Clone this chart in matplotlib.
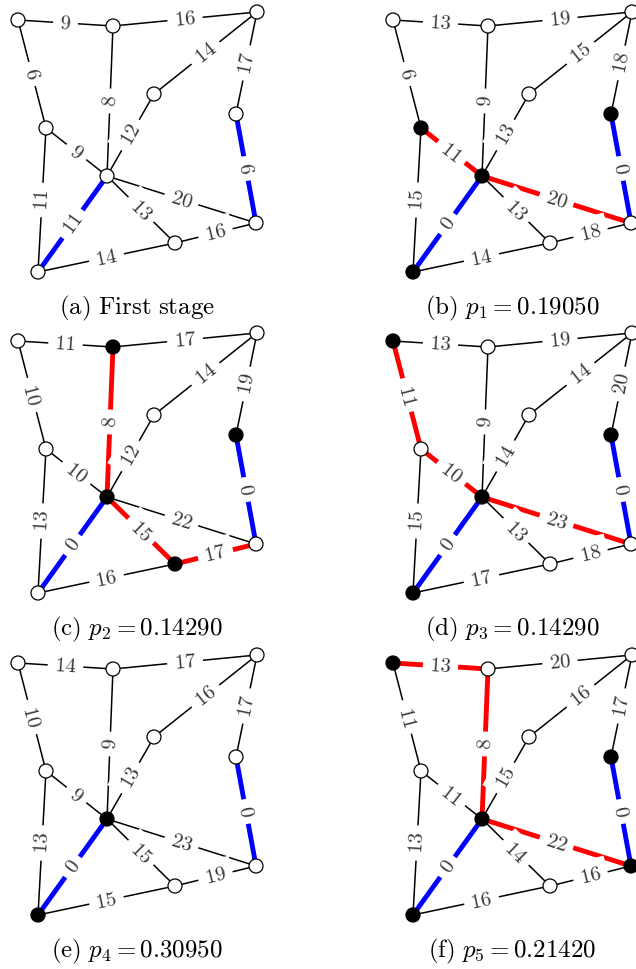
import math
import matplotlib
matplotlib.use("Agg")
import matplotlib.pyplot as plt
from matplotlib.patches import Circle

plt.rcParams['mathtext.fontset'] = 'cm'

# node layout (pixels inside one panel, y downwards)
node_x = [18, 113, 257, 154, 236, 46, 107, 256, 175, 38]
node_y = [20, 26, 12, 94, 114, 128, 176, 223, 243, 272]

edges = [(0, 1), (1, 2), (0, 5), (1, 6), (2, 3), (3, 6), (2, 4), (4, 7),
         (5, 6), (5, 9), (6, 9), (6, 7), (6, 8), (8, 7), (9, 8)]

weights = [
    [9, 16, 6, 8, 14, 12, 17, 6, 9, 11, 11, 20, 13, 16, 14],
    [13, 19, 6, 9, 15, 13, 18, 0, 11, 15, 0, 20, 13, 18, 14],
    [11, 17, 10, 8, 14, 12, 19, 0, 10, 13, 0, 22, 15, 17, 16],
    [13, 19, 11, 9, 14, 14, 20, 0, 10, 15, 0, 23, 13, 18, 17],
    [14, 17, 10, 9, 16, 13, 17, 0, 9, 13, 0, 23, 15, 19, 15],
    [13, 20, 11, 8, 16, 15, 17, 0, 11, 13, 0, 22, 14, 16, 16],
]

blue_edges = [(4, 7), (6, 9)]
red_edges = [
    [],
    [(5, 6), (6, 7)],
    [(1, 6), (6, 8), (8, 7)],
    [(0, 5), (5, 6), (6, 7)],
    [],
    [(0, 1), (1, 6), (6, 7)],
]
black_nodes = [
    [],
    [4, 5, 6, 9],
    [1, 4, 6, 8],
    [0, 4, 6, 9],
    [6, 9],
    [0, 4, 6, 7, 9],
]
captions = [
    r"$\mathrm{(a)\ First\ stage}$",
    r"$\mathrm{(b)}\ p_1 = 0.19050$",
    r"$\mathrm{(c)}\ p_2 = 0.14290$",
    r"$\mathrm{(d)}\ p_3 = 0.14290$",
    r"$\mathrm{(e)}\ p_4 = 0.30950$",
    r"$\mathrm{(f)}\ p_5 = 0.21420$",
]

W, H = 636, 969
fig = plt.figure(figsize=(W / 100, H / 100), dpi=100)

col_left = [0, 375]
row_top = [0, 321, 643]
pw, ph = 261, 320

for k in range(6):
    L = col_left[k % 2]
    T = row_top[k // 2]
    ax = fig.add_axes([L / W, 1 - (T + ph) / H, pw / W, ph / H])
    ax.set_xlim(0, pw)
    ax.set_ylim(ph, 0)
    ax.axis('off')

    for i, (a, b) in enumerate(edges):
        xa, ya, xb, yb = node_x[a], node_y[a], node_x[b], node_y[b]
        if (a, b) in blue_edges:
            ax.plot([xa, xb], [ya, yb], color='#0000ff', lw=3.5, solid_capstyle='butt', zorder=2)
        elif (a, b) in red_edges[k]:
            ax.plot([xa, xb], [ya, yb], color='#ff0000', lw=3.5, solid_capstyle='butt', zorder=2)
        else:
            ax.plot([xa, xb], [ya, yb], color='black', lw=1.1, zorder=1)

        # sloped label, kept upright
        ang = math.degrees(math.atan2(-(yb - ya), xb - xa))
        if ang > 90:
            ang -= 180
        elif ang <= -90:
            ang += 180
        ax.text((xa + xb) / 2, (ya + yb) / 2, f"${weights[k][i]}$", fontsize=15,
                color='#3a3a3a', ha='center', va='center', rotation=ang,
                rotation_mode='anchor', zorder=3,
                bbox=dict(boxstyle='square,pad=0.32', fc='white', ec='none'))

    for n in range(len(node_x)):
        fc = 'black' if n in black_nodes[k] else 'white'
        ax.add_patch(Circle((node_x[n], node_y[n]), 7, fc=fc, ec='black', lw=0.9,
                            zorder=4, clip_on=False))

    ax.text(137, 308, captions[k], fontsize=18, ha='center', va='center', color='black')

fig.savefig('out.png', dpi=100)
